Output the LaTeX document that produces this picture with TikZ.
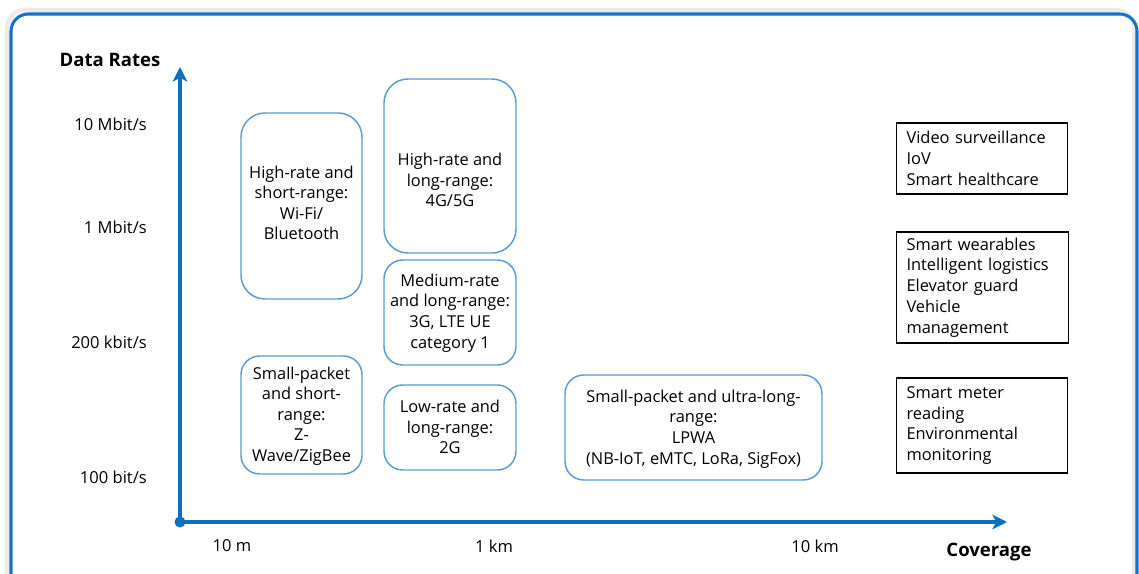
\documentclass[tikz,border=0pt]{standalone}
\usepackage{fontspec}
\setmainfont{Open Sans}
\usetikzlibrary{arrows.meta}
\newcommand{\pw}{0.75pt}
\definecolor{framblue}{HTML}{1572C4}
\definecolor{axisblue}{HTML}{0B6FC2}
\definecolor{bubbleblue}{HTML}{5B9BD5}
\tikzset{
  bubble/.style={draw=bubbleblue, line width=1.1pt, rounded corners=#1, fill=white},
  bubble/.default=14pt,
  btext/.style={align=center, inner sep=0pt, font=\fontsize{12.3pt}{15.4pt}\selectfont},
  usebox/.style={draw=black, line width=0.8pt, align=left, anchor=west,
    inner xsep=10*\pw, inner ysep=0pt, font=\fontsize{12.3pt}{15.6pt}\selectfont},
  ticklabel/.style={inner sep=0pt, font=\fontsize{12.4pt}{14pt}\selectfont},
  axistitle/.style={inner sep=0pt, font=\fontsize{13.9pt}{16pt}\selectfont\bfseries},
  axisline/.style={draw=axisblue, line width=2.3pt,
    -{Stealth[length=11pt, width=11pt, inset=3pt]}},
}
\begin{document}
\begin{tikzpicture}[x=0.75pt, y=-0.75pt]
\useasboundingbox (0,0) rectangle (1139,574);
\clip (0,0) rectangle (1139,574);
% panel frame with its soft shadow
\draw[gray!16, line width=3pt, rounded corners=13pt] (7,10) rectangle (1134,600);
\draw[framblue, line width=2.3pt, rounded corners=13pt] (11,14) rectangle (1137,600);

% axes
\coordinate (origin) at (180,522);
\coordinate (ytip) at (180,67);
\coordinate (xtip) at (1007,522);
\draw[axisline] (origin) -- (ytip);
\draw[axisline] (origin) -- (xtip);
\fill[axisblue] (origin) circle (5.5);

\node[axistitle] (ytitle) at (110,60) {Data Rates};
\node[axistitle] (xtitle) at (989,552) {Coverage};

\node[ticklabel, anchor=east] (y1) at (147,124) {10 Mbit/s};
\node[ticklabel, anchor=east] (y2) at (147,227) {1 Mbit/s};
\node[ticklabel, anchor=east] (y3) at (147,342) {200 kbit/s};
\node[ticklabel, anchor=east] (y4) at (147,477) {100 bit/s};
\node[ticklabel] (x1) at (232,546) {10 m};
\node[ticklabel] (x2) at (494,546) {1 km};
\node[ticklabel] (x3) at (815,546) {10 km};

% technology regions
\draw[bubble=18pt] (241,113) rectangle (362,299);
\node[btext] (wifi) at (301.5,203) {High-rate and\\short-range:\\Wi-Fi/\\Bluetooth};

\draw[bubble=18pt] (384,79) rectangle (516,253);
\node[btext] (g45) at (450,180) {High-rate and\\long-range:\\4G/5G};

\draw[bubble] (384,260) rectangle (516,365);
\node[btext] (g3) at (450,313) {Medium-rate\\and long-range:\\3G, LTE UE\\category 1};

\draw[bubble] (241,356) rectangle (362,474);
\node[btext] (zig) at (301.5,416) {Small-packet\\and short-\\range:\\Z-\\Wave/ZigBee};

\draw[bubble] (384,385) rectangle (516,470);
\node[btext] (g2) at (450,427) {Low-rate and\\long-range:\\2G};

\draw[bubble] (565,375) rectangle (822,480);
\node[btext] (lpwa) at (693.5,429) {Small-packet and ultra-long-\\range:\\LPWA\\(NB-IoT, eMTC, LoRa, SigFox)};

% application examples
\node[usebox, minimum width={171*\pw}, minimum height={71*\pw}, text width={151*\pw}]
  (app1) at (896,158.5) {Video surveillance\\IoV\\Smart healthcare};
\node[usebox, minimum width={172*\pw}, minimum height={111*\pw}, text width={152*\pw}]
  (app2) at (896,287.5) {Smart wearables\\Intelligent logistics\\Elevator guard\\Vehicle\\management};
\node[usebox, minimum width={171*\pw}, minimum height={95*\pw}, text width={151*\pw}]
  (app3) at (896,425.5) {Smart meter\\reading\\Environmental\\monitoring};
\end{tikzpicture}
\end{document}
